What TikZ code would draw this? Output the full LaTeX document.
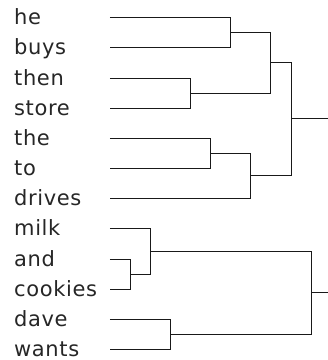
\documentclass[tikz,border=0pt]{standalone}
\usepackage{fontspec}
\setmainfont{DejaVu Sans}[LetterSpace=3.0]
\usetikzlibrary{positioning,calc}

\begin{document}
\begin{tikzpicture}[
    x=1pt, y=-1pt,
    word/.style={anchor=base west, inner sep=0pt, font=\fontsize{21}{21}\selectfont, text=black!85},
    branch/.style={line width=1.4pt, black!90}
]
\useasboundingbox (0,0) rectangle (328,360);

% Leaves (line ends)
\coordinate (he) at (110, 17.5);
\coordinate (buys) at (110, 47.5);
\coordinate (then) at (110, 78.5);
\coordinate (store) at (110, 108.5);
\coordinate (the) at (110, 138.5);
\coordinate (to) at (110, 168.5);
\coordinate (drives) at (110, 198.5);
\coordinate (milk) at (110, 228.5);
\coordinate (and) at (110, 259.5);
\coordinate (cookies) at (110, 289.5);
\coordinate (dave) at (110, 319.5);
\coordinate (wants) at (110, 349.5);

% Words
\foreach \w in {he,buys,then,store,the,to,drives,milk,and,cookies,dave,wants}
    \node[word] (\w-txt) at ($(\w) + (-96, 6.5)$) {\w};

% Merges
\coordinate (hebuys) at (230.5, 32.5);
\coordinate (thenstore) at (190.5, 93.5);
\coordinate (upper) at (270.5, 62.5);
\coordinate (theto) at (210.5, 153.5);
\coordinate (lower) at (250.5, 175.5);
\coordinate (top) at (291.5, 118.5);
\coordinate (topend) at (328, 118.5);
\coordinate (andcookies) at (130.5, 274.5);
\coordinate (milkand) at (150.5, 251.5);
\coordinate (davewants) at (170.5, 334.5);
\coordinate (bottom) at (311.5, 292.5);
\coordinate (bottomend) at (328, 292.5);

% Branches
\draw[branch] (he) -| (hebuys) |- (buys);
\draw[branch] (then) -| (thenstore) |- (store);
\draw[branch] (hebuys) -| (upper) |- (thenstore);
\draw[branch] (the) -| (theto) |- (to);
\draw[branch] (theto) -| (lower) |- (drives);
\draw[branch] (upper) -| (top) |- (lower);
\draw[branch] (top) -- (topend);
\draw[branch] (and) -| (andcookies) |- (cookies);
\draw[branch] (milk) -| (milkand) |- (andcookies);
\draw[branch] (dave) -| (davewants) |- (wants);
\draw[branch] (milkand) -| (bottom) |- (davewants);
\draw[branch] (bottom) -- (bottomend);

\end{tikzpicture}
\end{document}
